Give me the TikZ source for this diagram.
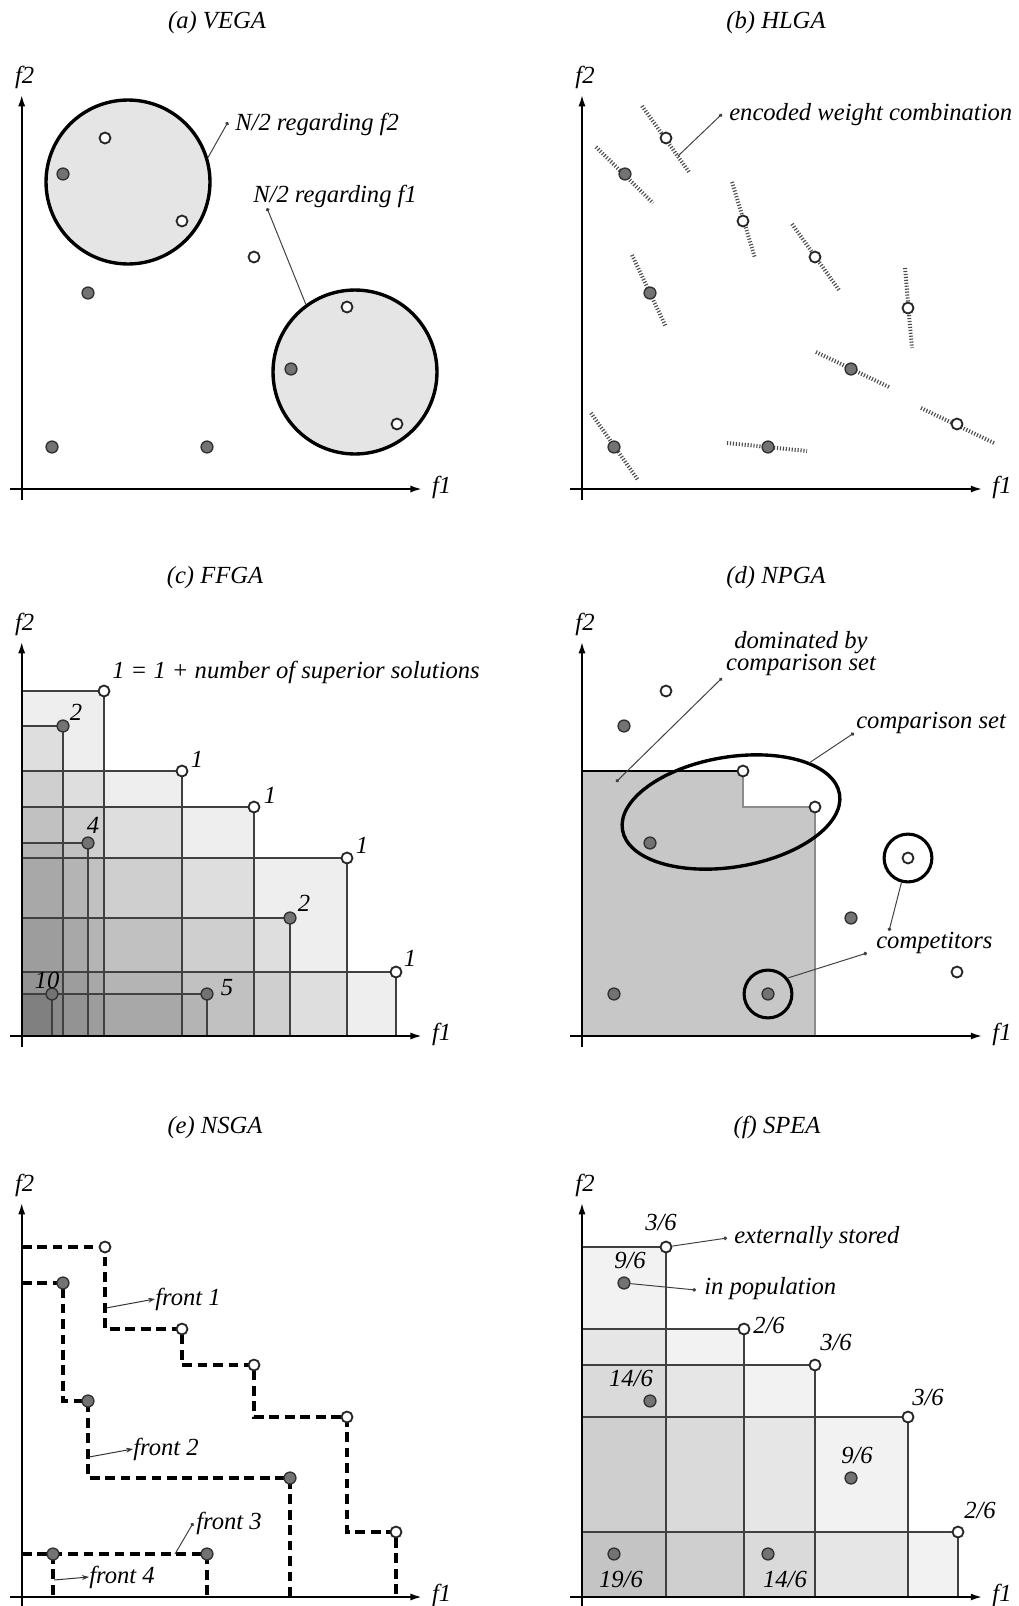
\documentclass[tikz,border=0pt]{standalone}
\usepackage{fontspec}
\setmainfont{Liberation Serif}
\usetikzlibrary{arrows.meta,calc}
\tikzset{
  axis/.style={line width=1.2pt,-{Latex[length=8pt,width=5pt]}},
  lab/.style={inner sep=0pt,font=\fontsize{17.5}{18}\selectfont\itshape},
  wpt/.style={circle,draw=black!85,fill=white,line width=1.3pt,inner sep=0pt,minimum size=7.8pt},
  gpt/.style={circle,draw=black!80,fill=black!55,line width=1pt,inner sep=0pt,minimum size=8.4pt},
  blob/.style={circle,draw,fill=black!10,line width=2.4pt,inner sep=0pt,minimum size=116.6pt},
  ring/.style={circle,draw,line width=2.2pt,inner sep=0pt,minimum size=34pt},
  callout/.style={draw=black!75,line width=0.7pt,-{Circle[length=2.6pt]}},
  frarr/.style={draw=black!80,line width=0.7pt,-{Stealth[length=5pt,width=3.5pt]}},
  wline/.style={draw=black!70,line width=2.8pt,dash pattern=on 0.8pt off 1.3pt},
  front/.style={line width=3pt,dash pattern=on 7pt off 4pt},
  dom/.style={fill=black,fill opacity=#1},
  grid/.style={draw=black!75,line width=1pt}
}
% axes of one panel: name prefix, origin x, origin y
\newcommand{\plotaxes}[3]{
  \draw[axis] (#2-12,#3) -- (#2+400,#3);
  \draw[axis] (#2,#3+11) -- (#2,#3-394);
  \node[lab,anchor=base] (#1f1) at (#2+420,#3+4) {f1};
  \node[lab,anchor=base] (#1f2) at (#2+3,#3-406) {f2};
}

\begin{document}
\begin{tikzpicture}[x=0.025cm,y=-0.025cm]
\useasboundingbox (0,0) rectangle (1019,1606);

% (a) VEGA
\node[lab,anchor=base] (ta) at (217,28) {(a) VEGA};
\plotaxes{a}{21.7}{489}
\node[blob] (r1) at (128,182) {};
\node[blob] (r2) at (355,372) {};
\node[wpt] (a1) at (105,138) {}; \node[gpt] (a2) at (63,174) {};
\node[wpt] (a3) at (182,221) {}; \node[wpt] (a4) at (254,257) {};
\node[gpt] (a5) at (88,293) {};  \node[gpt] (a6) at (52,447) {};
\node[gpt] (a7) at (207,447) {}; \node[wpt] (a8) at (347,307) {};
\node[gpt] (a9) at (291,369) {}; \node[wpt] (a10) at (397,424) {};
\coordinate (t1) at (228,122); \coordinate (t2) at (267,208);
\node[lab,anchor=base west] (l1) at (235,130) {N/2 regarding f2};
\node[lab,anchor=base west] (l2) at (253,202) {N/2 regarding f1};
\draw[callout] (r1.17) -- (t1);
\draw[callout] (r2.126) -- (t2);

% (b) HLGA
\node[lab,anchor=base] (tb) at (776,28) {(b) HLGA};
\plotaxes{b}{582}{489}
\draw[wline] (642,106) -- (689,172);
\draw[wline] (596,147) -- (653,203);
\draw[wline] (732,182) -- (755,258);
\draw[wline] (792,224) -- (839,290);
\draw[wline] (632,255) -- (666,327);
\draw[wline] (905,268) -- (912,348);
\draw[wline] (816,352) -- (889,387);
\draw[wline] (921,408) -- (994,443);
\draw[wline] (591,413) -- (638,480);
\draw[wline] (727,443) -- (807,451);
\node[wpt] (b1) at (666,138) {}; \node[gpt] (b2) at (625,174) {};
\node[wpt] (b3) at (743,221) {}; \node[wpt] (b4) at (815,257) {};
\node[gpt] (b5) at (650,293) {}; \node[wpt] (b6) at (908,308) {};
\node[gpt] (b7) at (851,369) {}; \node[wpt] (b8) at (957,424) {};
\node[gpt] (b9) at (614,447) {}; \node[gpt] (b10) at (768,447) {};
\coordinate (w0) at (678,156); \coordinate (w1) at (722,114);
\node[lab,anchor=base west] (lw) at (729,120) {encoded weight combination};
\draw[callout] (w0) -- (w1);

% (c) FFGA
\node[lab,anchor=base] (tc) at (215,583) {(c) FFGA};
\coordinate (cO) at (21.7,1036);
\coordinate (c1) at (104,691);  \coordinate (c2) at (63,726);
\coordinate (c3) at (182,771);  \coordinate (c4) at (254,807);
\coordinate (c5) at (88,843);   \coordinate (c6) at (347,858);
\coordinate (c7) at (290,918);  \coordinate (c8) at (396,972);
\coordinate (c9) at (52,994);   \coordinate (c10) at (207,994);
\fill[dom=0.065] (cO) rectangle (c1); \fill[dom=0.065] (cO) rectangle (c2);
\fill[dom=0.065] (cO) rectangle (c3); \fill[dom=0.065] (cO) rectangle (c4);
\fill[dom=0.065] (cO) rectangle (c5); \fill[dom=0.065] (cO) rectangle (c6);
\fill[dom=0.065] (cO) rectangle (c7); \fill[dom=0.065] (cO) rectangle (c8);
\fill[dom=0.065] (cO) rectangle (c9); \fill[dom=0.065] (cO) rectangle (c10);
\draw[grid] (cO |- c1) -- (c1) -- (c1 |- cO);
\draw[grid] (cO |- c2) -- (c2) -- (c2 |- cO);
\draw[grid] (cO |- c3) -- (c3) -- (c3 |- cO);
\draw[grid] (cO |- c4) -- (c4) -- (c4 |- cO);
\draw[grid] (cO |- c5) -- (c5) -- (c5 |- cO);
\draw[grid] (cO |- c6) -- (c6) -- (c6 |- cO);
\draw[grid] (cO |- c7) -- (c7) -- (c7 |- cO);
\draw[grid] (cO |- c8) -- (c8) -- (c8 |- cO);
\draw[grid] (cO |- c9) -- (c9) -- (c9 |- cO);
\draw[grid] (cO |- c10) -- (c10) -- (c10 |- cO);
\plotaxes{c}{21.7}{1036}
\node[wpt] (pc1) at (c1) {}; \node[gpt] (pc2) at (c2) {};
\node[wpt] (pc3) at (c3) {}; \node[wpt] (pc4) at (c4) {};
\node[gpt] (pc5) at (c5) {}; \node[wpt] (pc6) at (c6) {};
\node[gpt] (pc7) at (c7) {}; \node[wpt] (pc8) at (c8) {};
\node[gpt] (pc9) at (c9) {}; \node[gpt] (pc10) at (c10) {};
\node[lab,anchor=base west] (lc1) at (112,678) {1 = 1 + number of superior solutions};
\node[lab,anchor=base] (lc2) at (76,720) {2};
\node[lab,anchor=base] (lc3) at (197,767) {1};
\node[lab,anchor=base] (lc4) at (270,803) {1};
\node[lab,anchor=base] (lc5) at (93,833) {4};
\node[lab,anchor=base] (lc6) at (362,853) {1};
\node[lab,anchor=base] (lc7) at (304,911) {2};
\node[lab,anchor=base] (lc8) at (410,966) {1};
\node[lab,anchor=base] (lc9) at (47,988) {10};
\node[lab,anchor=base] (lc10) at (227,995) {5};

% (d) NPGA
\node[lab,anchor=base] (td) at (776,583) {(d) NPGA};
\coordinate (dO) at (582,1036);
\coordinate (d1) at (666,691);  \coordinate (d2) at (624,726);
\coordinate (d3) at (743,771);  \coordinate (d4) at (815,807);
\coordinate (d5) at (650,843);  \coordinate (d6) at (908,858);
\coordinate (d7) at (851,918);  \coordinate (d8) at (957,972);
\coordinate (d9) at (614,994);  \coordinate (d10) at (768,994);
\fill[black!22] (dO) |- (d3) |- (d4) |- (dO) -- cycle;
\draw[black,line width=0.8pt] (dO |- d3) -- (d3);
\draw[black!45,line width=1pt] (d3) |- (d4) -- (d4 |- dO);
\plotaxes{d}{582}{1036}
\draw[line width=2.4pt,rotate around={9.4:(731,812)}] (731,812) ellipse [x radius=110,y radius=55];
\node[ring] (k1) at (d6) {};
\node[ring] (k2) at (d10) {};
\node[wpt] (pd1) at (d1) {}; \node[gpt] (pd2) at (d2) {};
\node[wpt] (pd3) at (d3) {}; \node[wpt] (pd4) at (d4) {};
\node[gpt] (pd5) at (d5) {}; \node[wpt] (pd6) at (d6) {};
\node[gpt] (pd7) at (d7) {}; \node[wpt] (pd8) at (d8) {};
\node[gpt] (pd9) at (d9) {}; \node[gpt] (pd10) at (d10) {};
\node[lab,anchor=base] (dm1) at (801,648) {dominated by};
\node[lab,anchor=base] (dm2) at (801,670) {comparison set};
\node[lab,anchor=base west] (cs) at (856,728) {comparison set};
\node[lab,anchor=base west] (cp) at (876,948) {competitors};
\coordinate (dd0) at (616,782); \coordinate (dd1) at (722,678);
\coordinate (ce0) at (809,763); \coordinate (ce1) at (854,733);
\coordinate (tc1) at (889,931); \coordinate (tc2) at (867,953);
\draw[callout,{Circle[length=2.6pt]}-{Circle[length=2.6pt]}] (dd0) -- (dd1);
\draw[callout] (ce0) -- (ce1);
\draw[callout] (k1.-105) -- (tc1);
\draw[callout] (k2.39) -- (tc2);

% (e) NSGA
\node[lab,anchor=base] (te) at (215,1133) {(e) NSGA};
\coordinate (eO) at (21.7,1597);
\coordinate (e1) at (105,1247); \coordinate (e2) at (63,1283);
\coordinate (e3) at (182,1329); \coordinate (e4) at (254,1365);
\coordinate (e5) at (88,1401);  \coordinate (e6) at (347,1417);
\coordinate (e7) at (290,1478); \coordinate (e8) at (396,1532);
\coordinate (e9) at (53,1554);  \coordinate (e10) at (207,1554);
\plotaxes{e}{21.7}{1597}
\draw[front] (eO |- e1) -- (e1) |- (e3) |- (e4) |- (e6) |- (e8) -- (e8 |- eO);
\draw[front] (eO |- e2) -- (e2) |- (e5) |- (e7) -- (e7 |- eO);
\draw[front] (eO |- e9) -- (e10) -- (e10 |- eO);
\draw[front] (e9) -- (e9 |- eO);
\node[wpt] (pe1) at (e1) {}; \node[gpt] (pe2) at (e2) {};
\node[wpt] (pe3) at (e3) {}; \node[wpt] (pe4) at (e4) {};
\node[gpt] (pe5) at (e5) {}; \node[wpt] (pe6) at (e6) {};
\node[gpt] (pe7) at (e7) {}; \node[wpt] (pe8) at (e8) {};
\node[gpt] (pe9) at (e9) {}; \node[gpt] (pe10) at (e10) {};
\node[lab,anchor=base west] (fr1) at (155,1305) {front 1};
\node[lab,anchor=base west] (fr2) at (133,1455) {front 2};
\node[lab,anchor=base west] (fr3) at (196,1529) {front 3};
\node[lab,anchor=base west] (fr4) at (89,1583) {front 4};
\coordinate (ef1) at (106,1308); \coordinate (ef2) at (89,1457);
\coordinate (ef3) at (175,1554); \coordinate (ef4) at (54,1580);
\draw[frarr] (ef1) -- (fr1.west);
\draw[frarr] (ef2) -- (fr2.west);
\draw[callout] (ef3) -- ([xshift=-2pt]fr3.west);
\draw[frarr] (ef4) -- (fr4.west);

% (f) SPEA
\node[lab,anchor=base] (tf) at (777,1133) {(f) SPEA};
\coordinate (sO) at (582,1597);
\coordinate (s1) at (666,1247); \coordinate (s2) at (744,1329);
\coordinate (s3) at (815,1365); \coordinate (s4) at (908,1417);
\coordinate (s5) at (958,1532);
\coordinate (g1) at (624,1283); \coordinate (g2) at (650,1401);
\coordinate (g3) at (851,1478); \coordinate (g4) at (614,1554);
\coordinate (g5) at (768,1554);
\fill[dom=0.05] (sO) rectangle (s1); \fill[dom=0.05] (sO) rectangle (s2);
\fill[dom=0.05] (sO) rectangle (s3); \fill[dom=0.05] (sO) rectangle (s4);
\fill[dom=0.05] (sO) rectangle (s5);
\draw[grid] (sO |- s1) -- (s1) -- (s1 |- sO);
\draw[grid] (sO |- s2) -- (s2) -- (s2 |- sO);
\draw[grid] (sO |- s3) -- (s3) -- (s3 |- sO);
\draw[grid] (sO |- s4) -- (s4) -- (s4 |- sO);
\draw[grid] (sO |- s5) -- (s5) -- (s5 |- sO);
\plotaxes{f}{582}{1597}
\node[wpt] (ps1) at (s1) {}; \node[wpt] (ps2) at (s2) {};
\node[wpt] (ps3) at (s3) {}; \node[wpt] (ps4) at (s4) {};
\node[wpt] (ps5) at (s5) {};
\node[gpt] (pg1) at (g1) {}; \node[gpt] (pg2) at (g2) {};
\node[gpt] (pg3) at (g3) {}; \node[gpt] (pg4) at (g4) {};
\node[gpt] (pg5) at (g5) {};
\node[lab,anchor=base] (v1) at (661,1230) {3/6};
\node[lab,anchor=base] (v2) at (630,1268) {9/6};
\node[lab,anchor=base] (v3) at (769,1333) {2/6};
\node[lab,anchor=base] (v4) at (836,1350) {3/6};
\node[lab,anchor=base] (v5) at (631,1386) {14/6};
\node[lab,anchor=base] (v6) at (928,1405) {3/6};
\node[lab,anchor=base] (v7) at (857,1463) {9/6};
\node[lab,anchor=base] (v8) at (980,1518) {2/6};
\node[lab,anchor=base] (v9) at (621,1587) {19/6};
\node[lab,anchor=base] (v10) at (785,1587) {14/6};
\node[lab,anchor=base west] (lx) at (734,1243) {externally stored};
\node[lab,anchor=base west] (lp) at (704,1294) {in population};
\coordinate (tx) at (727,1238); \coordinate (tp) at (696,1290);
\draw[callout] (ps1) -- (tx);
\draw[callout] (pg1) -- (tp);
\end{tikzpicture}
\end{document}
